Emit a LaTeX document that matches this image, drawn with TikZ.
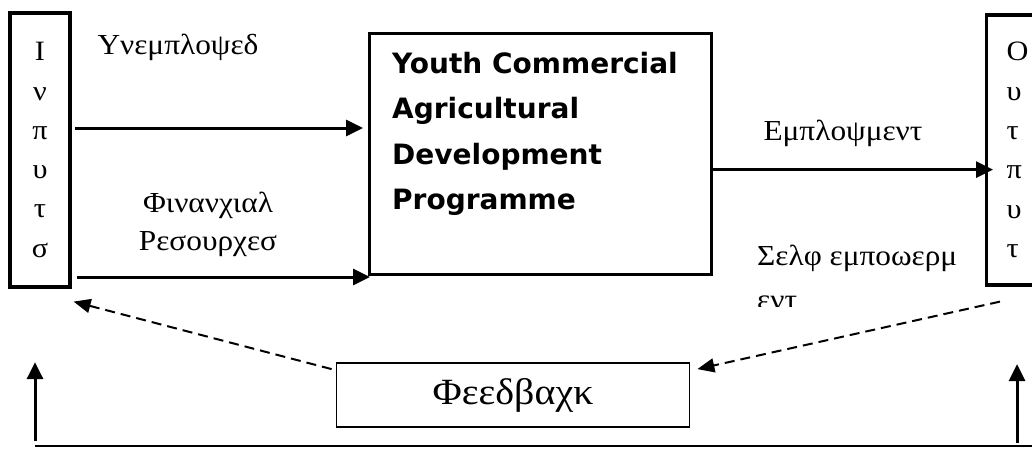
\documentclass[tikz,border=0pt]{standalone}
\usepackage{fontspec}
\setmainfont{Liberation Serif}
\setsansfont{DejaVu Sans}
\newfontfamily\greekwide[FakeStretch=1.08]{Liberation Serif}
\usetikzlibrary{arrows.meta, positioning, calc}

\begin{document}
\begin{tikzpicture}[
        x=1pt, y=-1pt,
        sidebox/.style={rectangle, draw, line width=3.2pt, inner sep=0pt, align=center, font=\greekwide\fontsize{28}{39.3}\selectfont},
        progbox/.style={rectangle, draw, line width=3.2pt, minimum width=342, minimum height=241, inner sep=0pt},
        fbbox/.style={rectangle, draw, line width=1.8pt, minimum width=353, minimum height=64, font=\greekwide\fontsize{37}{40}\selectfont},
        arrow/.style={-{Triangle[length=17pt, width=16pt]}, line width=3pt},
        dasharrow/.style={-{Triangle[length=17pt, width=14pt]}, line width=2pt, dash pattern=on 10pt off 6pt},
        label/.style={font=\greekwide\fontsize{29}{38}\selectfont, align=center}
    ]
        \useasboundingbox (0,0) rectangle (1032,448);
        \clip (0,0) rectangle (1032,448);
        % side boxes with spelled-down words
        \node[sidebox, minimum width=60, minimum height=274] (inputs) at (40,150) {Ι\\ν\\π\\υ\\τ\\σ};
        \node[sidebox, anchor=west, minimum width=80, minimum height=270, text width=40, inner xsep=12, align=left] (outputs) at (985,150) {Ο\\υ\\τ\\π\\υ\\τ};
        % programme box
        \node[progbox, anchor=north west] (prog) at (368,32) {};
        \node[anchor=north west, align=left, inner sep=0pt, font=\sffamily\bfseries\fontsize{28}{45.3}\selectfont] (progtitle) at ([xshift=24pt, yshift=-20pt]prog.north west) {Youth Commercial\\Agricultural\\Development\\Programme};
        \node[fbbox] (fb) at (513,395) {Φεεδβαχκ};
        % labels
        \node[label] (unemp) at (178,47) {Υνεμπλοψεδ};
        \node[label] (finres) at (208,224) {Φινανχιαλ\\Ρεσουρχεσ};
        \node[label] (emp) at (843,133) {Εμπλοψμεντ};
        \begin{scope}
            \clip (700,230) rectangle (980,306);
            \node[label, align=left, anchor=north west, inner sep=0pt, font=\greekwide\fontsize{29}{44}\selectfont] (selfemp) at (757,245) {Σελφ εμποωερμ\\εντ};
        \end{scope}
        % flows
        \draw[arrow] ([xshift=3pt, yshift=22pt]inputs.east) -- ([xshift=-5pt, yshift=22pt]inputs.east -| prog.west);
        \draw[arrow] ([xshift=5pt, yshift=-127pt]inputs.east) -- ([xshift=2pt, yshift=-127pt]inputs.east -| prog.west);
        \draw[arrow] ([xshift=-3pt, yshift=-15.5pt]prog.east) -- ([xshift=8pt, yshift=-15.5pt]prog.east -| outputs.west);
        % feedback
        \draw[dasharrow] ([xshift=-4pt, yshift=-7pt]fb.north west) -- ([xshift=2pt, yshift=-13pt]inputs.south east);
        \draw[dasharrow] ([xshift=15pt, yshift=-15pt]outputs.south west) -- ([xshift=7pt, yshift=-7pt]fb.north east);
        \coordinate (baseL) at (35,446);
        \coordinate (baseR) at (1032,446);
        \coordinate (riseR) at (1017,446);
        \draw[line width=1.8pt] (baseL) -- (baseR);
        \draw[arrow] ([yshift=5pt]baseL) -- (baseL |- fb.north);
        \draw[arrow] ([yshift=3pt]riseR) -- ([yshift=-2pt]riseR |- fb.north);
    \end{tikzpicture}
\end{document}
